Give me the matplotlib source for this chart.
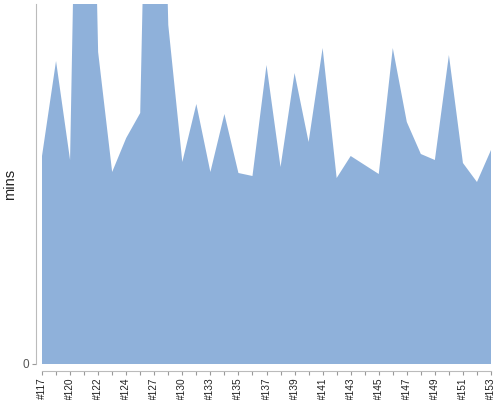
import numpy as np
import matplotlib.pyplot as plt

plt.rcParams['font.family'] = ['Liberation Sans', 'DejaVu Sans']

# build labels (odd ones are hidden on the axis)
builds = ['#117', '#118', '#120', '#121', '#122', '#123', '#124', '#126',
          '#127', '#129', '#130', '#131', '#133', '#134', '#135', '#136',
          '#137', '#138', '#139', '#140', '#141', '#142', '#143', '#144',
          '#145', '#146', '#147', '#148', '#149', '#150', '#151', '#152',
          '#153']

# duration in minutes
mins = [20.8, 30.3, 20.4, 96.4, 31.2, 19.2, 22.6, 25.1, 91.4, 33.9, 20.2,
        26.0, 19.2, 25.0, 19.1, 18.8, 29.9, 19.7, 29.1, 22.2, 31.6, 18.6,
        20.8, 19.9, 19.0, 31.6, 24.2, 21.0, 20.4, 30.9, 20.1, 18.2, 21.4]

x = np.arange(len(builds))

fig = plt.figure(figsize=(5, 4), dpi=100)
ax = fig.add_axes([42 / 500, 36 / 400, 449 / 500, 360 / 400])

ax.fill_between(x, 0, mins, color='#8fb1da', linewidth=0)
ax.set_xlim(0, len(builds) - 1)
ax.set_ylim(0, 36)

for side in ['top', 'right']:
    ax.spines[side].set_visible(False)
ax.spines['left'].set_position(('outward', 4))
ax.spines['bottom'].set_position(('outward', 5))
ax.spines['left'].set_color('#bbbbbb')
ax.spines['bottom'].set_color('#bbbbbb')
ax.tick_params(axis='both', colors='#999999', length=3, width=0.8, pad=2)

ax.set_xticks(x)
ax.set_xticklabels([b if i % 2 == 0 else '' for i, b in enumerate(builds)])
ax.set_yticks([0])
ax.set_yticklabels(['0'])
ax.tick_params(axis='x', labelcolor='#222222', labelsize=7.3, labelrotation=90, pad=1.5)
ax.tick_params(axis='y', labelcolor='#555555', labelsize=8.5)
ax.set_ylabel('mins', fontsize=10.5, color='#222222', labelpad=4)

fig.savefig('out.png', dpi=100)
